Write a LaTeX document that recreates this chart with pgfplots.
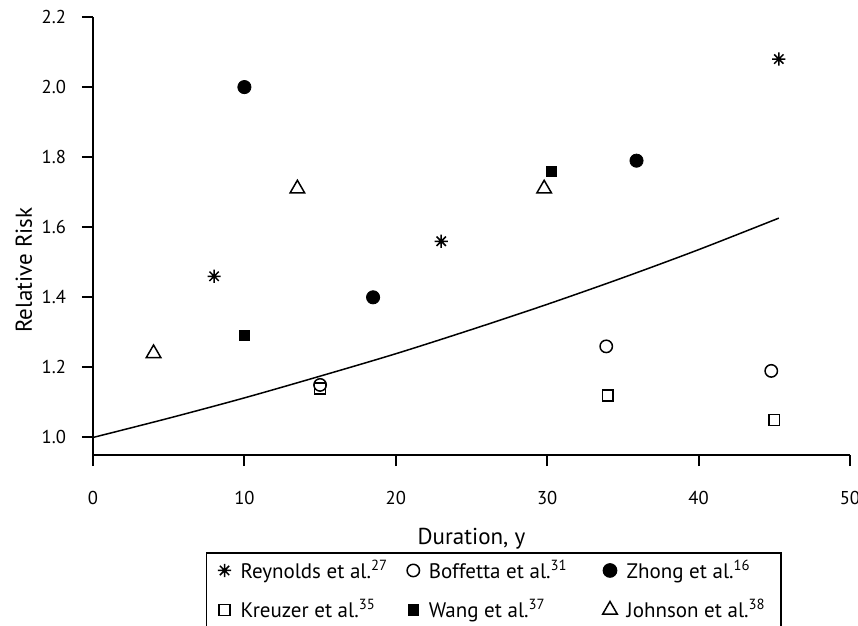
\documentclass[border=0pt]{standalone}
\usepackage{pgfplots}
\pgfplotsset{compat=1.18}
\usepackage{fontspec}
\setmainfont{PT Sans}

% eight-armed asterisk
\pgfdeclareplotmark{ast8}{%
  \pgfpathmoveto{\pgfqpoint{-\pgfplotmarksize}{0pt}}%
  \pgfpathlineto{\pgfqpoint{\pgfplotmarksize}{0pt}}%
  \pgfpathmoveto{\pgfqpoint{0pt}{-\pgfplotmarksize}}%
  \pgfpathlineto{\pgfqpoint{0pt}{\pgfplotmarksize}}%
  \pgfpathmoveto{\pgfqpoint{-0.7071\pgfplotmarksize}{-0.7071\pgfplotmarksize}}%
  \pgfpathlineto{\pgfqpoint{0.7071\pgfplotmarksize}{0.7071\pgfplotmarksize}}%
  \pgfpathmoveto{\pgfqpoint{-0.7071\pgfplotmarksize}{0.7071\pgfplotmarksize}}%
  \pgfpathlineto{\pgfqpoint{0.7071\pgfplotmarksize}{-0.7071\pgfplotmarksize}}%
  \pgfusepathqstroke}

\begin{document}
\begin{tikzpicture}
\begin{axis}[
    at={(0,0)}, anchor=south west,
    width=378.5pt, height=219pt, scale only axis,
    xmin=0, xmax=50, ymin=0.95, ymax=2.2,
    axis x line*=bottom, axis y line*=left,
    axis line style={line width=1pt},
    xtick={0,10,20,30,40,50},
    ytick={1.0,1.2,1.4,1.6,1.8,2.0,2.2},
    /pgf/number format/assume math mode=true,
    tick align=outside, major tick length=5.5pt,
    tick style={black, line width=1pt},
    ticklabel style={font=\fontsize{9.3pt}{10pt}\selectfont},
    xticklabel style={yshift=-9pt},
    yticklabel style={xshift=-4.5pt, /pgf/number format/fixed,
        /pgf/number format/fixed zerofill, /pgf/number format/precision=1},
    xlabel={Duration, y},
    ylabel={Relative Risk},
    every axis x label/.style={at={(axis description cs:0.5,0)}, anchor=base, yshift=-45pt, font=\fontsize{11.5pt}{13pt}\selectfont},
    every axis y label/.style={at={(axis description cs:0,0.422)}, rotate=90, anchor=base, yshift=30.5pt, font=\fontsize{11.5pt}{13pt}\selectfont},
    clip=false,
    legend columns=3,
    legend cell align=left,
    legend style={at={(0.149,-0.2215)}, anchor=north west, draw=black, line width=0.75pt,
        font=\fontsize{10.5pt}{12pt}\selectfont, inner xsep=5.7pt, inner ysep=1.5pt,
        row sep=5pt,
        /tikz/every even column/.append style={column sep=7.5pt},
        /tikz/every odd column/.append style={column sep=2.7pt},
        /tikz/row 1 column 4/.style={column sep=15.5pt},
        /tikz/row 2 column 4/.style={column sep=15.5pt}},
]

% fitted trend
\addplot[black, line width=0.75pt, smooth, forget plot] coordinates {
    (0, 1.000) (5, 1.055) (10, 1.113) (15, 1.175) (20, 1.239)
    (25, 1.308) (30, 1.380) (35, 1.456) (40, 1.536) (45.3, 1.626)
};

\addplot[only marks, mark=ast8, mark size=3.3pt, black, line width=0.75pt] coordinates {
    (8, 1.46) (23, 1.56) (45.3, 2.08)
};
\addlegendentry{Reynolds et al.\textsuperscript{27}}

\addplot[only marks, mark=o, mark size=3.1pt, black, line width=0.75pt] coordinates {
    (15, 1.15) (33.9, 1.26) (44.8, 1.19)
};
\addlegendentry{Boffetta et al.\textsuperscript{31}}

\addplot[only marks, mark=*, mark size=3.3pt, black] coordinates {
    (10, 2.00) (18.5, 1.40) (35.9, 1.79)
};
\addlegendentry{Zhong et al.\textsuperscript{16}}

\addplot[only marks, mark=square, mark size=2.7pt, black, line width=0.75pt] coordinates {
    (15, 1.14) (34, 1.12) (45, 1.05)
};
\addlegendentry{Kreuzer et al.\textsuperscript{35}}

\addplot[only marks, mark=square*, mark size=2.5pt, black] coordinates {
    (10, 1.29) (30.3, 1.76)
};
\addlegendentry{Wang et al.\textsuperscript{37}}

\addplot[only marks, mark=triangle, mark size=4.2pt, black, line width=0.75pt] coordinates {
    (4, 1.24) (13.5, 1.71) (29.8, 1.71)
};
\addlegendentry{Johnson et al.\textsuperscript{38}}

\end{axis}
\pgfresetboundingbox
\path[use as bounding box] (-46.5pt,-85.5pt) rectangle (382.5pt,227.5pt);
\end{tikzpicture}
\end{document}
